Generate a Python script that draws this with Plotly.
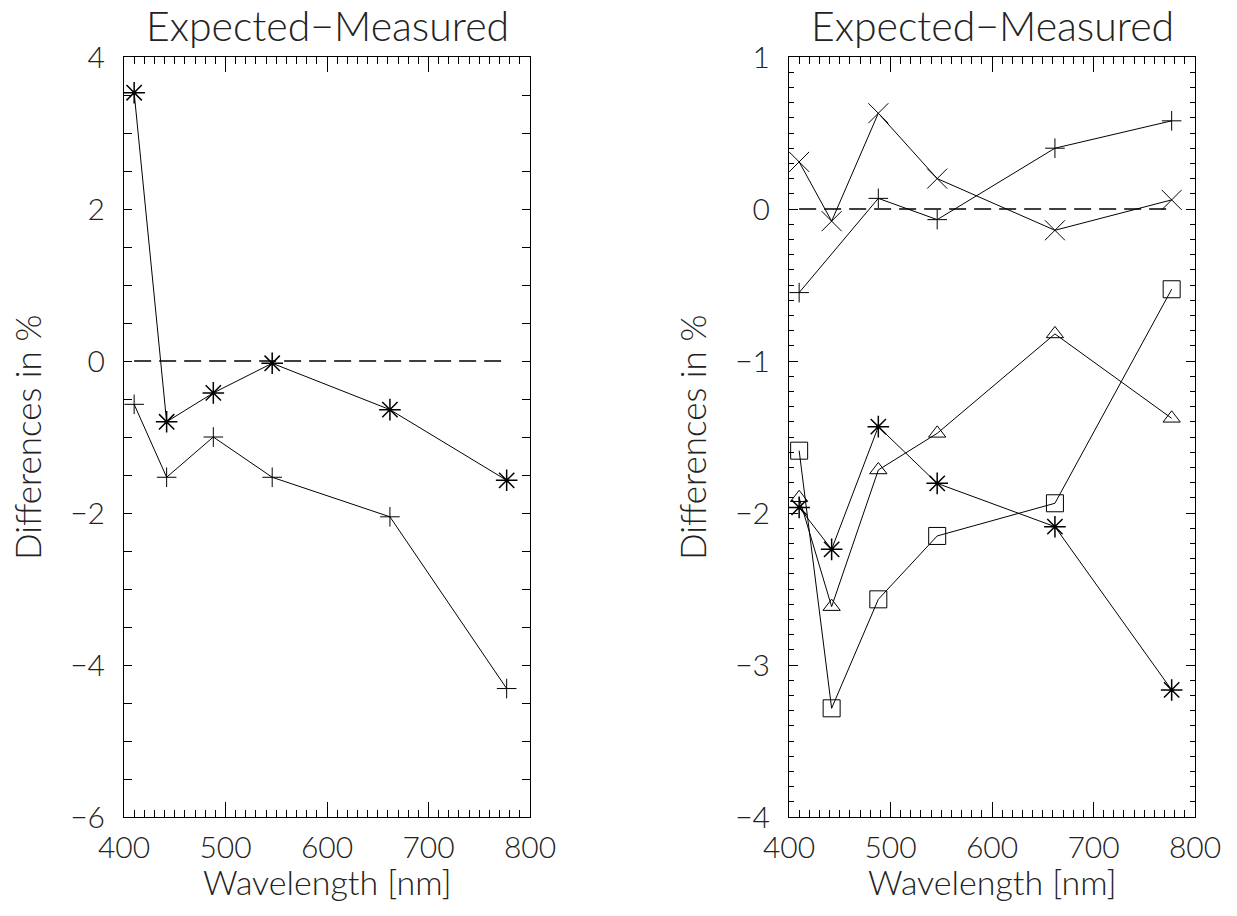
import plotly.graph_objects as go

# ---------------- data ----------------
wavelength = [410, 442, 488, 546, 662, 777]

# left panel
left_star = [3.53, -0.80, -0.42, -0.03, -0.64, -1.57]
left_plus = [-0.57, -1.53, -1.00, -1.53, -2.05, -4.31]

# right panel
right_x = [0.31, -0.08, 0.63, 0.20, -0.14, 0.06]
right_plus_wl = [410, 488, 546, 662, 777]
right_plus = [-0.55, 0.07, -0.07, 0.40, 0.58]
right_square = [-1.59, -3.285, -2.568, -2.151, -1.936, -0.528]
right_triangle = [-1.90, -2.616, -1.717, -1.476, -0.822, -1.377]
right_star = [-1.963, -2.239, -1.432, -1.805, -2.090, -3.164]

zero_x = [410, 777]
zero_y = [0, 0]

title_text = "Expected\u2212Measured"
xtitle_text = "Wavelength [nm]"
ytitle_text = "Differences in %"

# ---------------- figure ----------------
W, H = 1237, 916
FONT = "Lato"
FW = 300
BLACK = "#000000"
TXT = "#222222"

fig = go.Figure()

def add_series(x, y, symbol, size, xa, ya, lw=1.0):
    fig.add_trace(go.Scatter(
        x=x, y=y, mode="lines+markers", xaxis=xa, yaxis=ya,
        line=dict(color=BLACK, width=1),
        marker=dict(symbol=symbol, size=size, color=BLACK,
                    line=dict(color=BLACK, width=lw)),
        showlegend=False, hoverinfo="x+y"))

def add_zero(xa, ya):
    fig.add_trace(go.Scatter(
        x=zero_x, y=zero_y, mode="lines", xaxis=xa, yaxis=ya,
        line=dict(color=BLACK, width=1.5, dash="17px,8px"),
        showlegend=False, hoverinfo="skip"))

# left
add_zero("x", "y")
add_series(wavelength, left_plus, "cross-thin", 14, "x", "y")
add_series(wavelength, left_star, "asterisk", 18, "x", "y", lw=1.5)

# right
add_zero("x2", "y2")
add_series(wavelength, right_x, "x-thin", 20, "x2", "y2")
add_series(right_plus_wl, right_plus, "cross-thin", 14, "x2", "y2")
add_series(wavelength, right_square, "square-open", 17, "x2", "y2")
add_series(wavelength, right_triangle, "triangle-up-open", 15, "x2", "y2")
add_series(wavelength, right_star, "asterisk", 18, "x2", "y2", lw=1.5)

tickfont = dict(family=FONT, size=30, color=TXT, weight=FW)

def xaxis_cfg(x0, x1):
    return dict(
        domain=[x0 / W, x1 / W], range=[400, 800], dtick=100, tick0=400,
        ticks="inside", ticklen=15, tickwidth=1, tickcolor=BLACK,
        minor=dict(ticks="inside", ticklen=7, dtick=10, tickwidth=1, tickcolor=BLACK),
        showline=True, linecolor=BLACK, linewidth=1, mirror="allticks",
        showgrid=False, zeroline=False, tickfont=tickfont,
        ticklabelstandoff=4, automargin=False)

def yaxis_cfg(rng, dtick, mdtick, tl, mtl):
    return dict(
        domain=[1 - 817 / H, 1 - 57 / H], range=rng, dtick=dtick,
        ticks="inside", ticklen=tl, tickwidth=1, tickcolor=BLACK,
        minor=dict(ticks="inside", ticklen=mtl, dtick=mdtick, tickwidth=1, tickcolor=BLACK),
        showline=True, linecolor=BLACK, linewidth=1, mirror="allticks",
        showgrid=False, zeroline=False, tickfont=tickfont,
        ticklabelstandoff=12, automargin=False)

xa1 = xaxis_cfg(124, 530); xa1["anchor"] = "y"
xa2 = xaxis_cfg(789, 1195); xa2["anchor"] = "y2"
ya1 = yaxis_cfg([-6, 4], 2, 0.5, 8, 8); ya1["anchor"] = "x"
ya2 = yaxis_cfg([-4, 1], 1, 0.1, 9, 5); ya2["anchor"] = "x2"

annotations = []
for cx, yx in [(327, 27), (992, 692)]:
    annotations.append(dict(
        text=title_text, x=cx / W, y=1 - 25 / H, xref="paper", yref="paper",
        xanchor="center", yanchor="middle", showarrow=False,
        font=dict(family=FONT, size=41, color=TXT, weight=FW)))
    annotations.append(dict(
        text=xtitle_text, x=cx / W, y=1 - 881 / H, xref="paper", yref="paper",
        xanchor="center", yanchor="middle", showarrow=False,
        font=dict(family=FONT, size=34, color=TXT, weight=FW)))
    annotations.append(dict(
        text=ytitle_text, x=yx / W, y=1 - 437 / H, xref="paper", yref="paper",
        xanchor="center", yanchor="middle", showarrow=False, textangle=-90,
        font=dict(family=FONT, size=35, color=TXT, weight=FW)))

fig.update_layout(
    template="none",
    width=W, height=H, margin=dict(l=0, r=0, t=0, b=0, autoexpand=False),
    paper_bgcolor="white", plot_bgcolor="white",
    xaxis=xa1, yaxis=ya1, xaxis2=xa2, yaxis2=ya2,
    annotations=annotations, showlegend=False,
    font=dict(family=FONT, color=TXT))

fig.write_html("out.html")
